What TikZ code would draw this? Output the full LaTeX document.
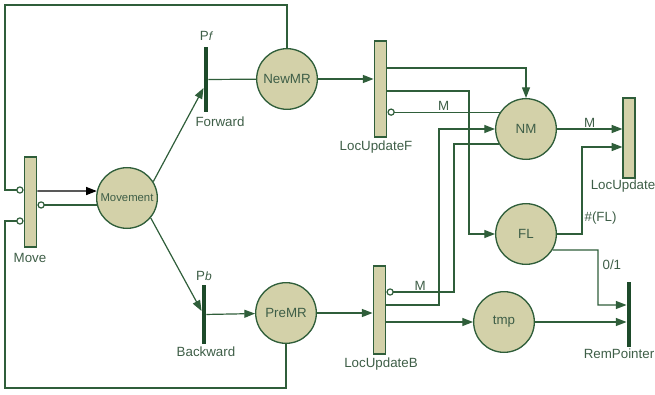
\documentclass[tikz,border=0pt]{standalone}
\usepackage{fontspec}
\setmainfont{Liberation Sans}
\usetikzlibrary{arrows.meta}

\definecolor{pgreen}{HTML}{2F5E3A}
\definecolor{bargreen}{HTML}{1D4A2A}
\definecolor{ptan}{HTML}{D3D1A9}
\definecolor{ptext}{HTML}{3E5E47}

\tikzset{
  place/.style={circle,draw=pgreen,fill=ptan,line width=1pt,minimum size=45.5pt,inner sep=0pt,text=ptext,font=\fontsize{10}{12}\selectfont},
  trans/.style={rectangle,draw=pgreen,fill=ptan,line width=0.9pt,minimum width=9.5pt,inner sep=0pt},
  thinbar/.style={rectangle,fill=bargreen,minimum width=3.3pt,inner sep=0pt},
  lbl/.style={text=ptext,font=\fontsize{10}{12}\selectfont,inner sep=1pt},
  flow/.style={draw=pgreen,line width=0.9pt,-{Triangle[length=8pt,width=6pt]}},
  flowblack/.style={draw=black,line width=0.9pt,-{Triangle[length=8pt,width=6pt]}},
  inh/.style={draw=pgreen,line width=0.9pt,-{Circle[open,length=5.5pt]}},
  plainarc/.style={draw=pgreen,line width=0.9pt}
}

\begin{document}
\begin{tikzpicture}[x=0.75pt,y=-0.75pt]
\useasboundingbox (0,0) rectangle (655,395);

% transitions and places
\node[trans,minimum height=67.5pt] (Move) at (30.5,202) {};
\node[place,font=\fontsize{8.5}{10}\selectfont] (Movement) at (127,198) {Movement};
\node[thinbar,minimum height=48.75pt] (Pf) at (206,79.5) {};
\node[thinbar,minimum height=44pt] (Pb) at (204,314.5) {};
\node[place] (NewMR) at (287,79) {NewMR};
\node[place] (PreMR) at (286,313) {PreMR};
\node[trans,minimum height=72pt] (LocUpdateF) at (380.5,89) {};
\node[trans,minimum height=66pt] (LocUpdateB) at (379.5,310) {};
\node[place] (NM) at (526,129) {NM};
\node[place] (FL) at (526,234) {FL};
\node[place] (tmp) at (504,322) {tmp};
\node[trans,minimum width=9pt,minimum height=60pt] (LocUpdate) at (629,138) {};
\node[thinbar,minimum height=48.75pt] (RemPointer) at (629,314) {};

% labels
\node[lbl] (lMove) at (30,258) {Move};
\node[lbl] (lPf) at (206,36) {P{\small\itshape f}};
\node[lbl] (lForward) at (220,122) {Forward};
\node[lbl] (lPb) at (204,276) {P{\small\itshape b}};
\node[lbl] (lBackward) at (206,352) {Backward};
\node[lbl] (lLocUpdateF) at (376,147) {LocUpdateF};
\node[lbl] (lLocUpdateB) at (381,364) {LocUpdateB};
\node[lbl] (lLocUpdate) at (623,186) {LocUpdate};
\node[lbl] (lRemPointer) at (619,354) {RemPointer};
\node[lbl,anchor=west] (lFL) at (583,218) {\#(FL)};
\node[lbl,anchor=west] (lZero) at (601,265) {0/1};

% loops back to Move
\draw[inh] (NewMR.north) |- (5,5) |- (Move.west |- 0,190);
\draw[inh] (PreMR.south) |- (5,388) |- (Move.west |- 0,221);

\draw[flowblack] (Move.east |- 0,191) -- (Movement.167);
\draw[inh] (Movement.193) -- (Move.east |- Movement.193);
\draw[flow] (Movement.32) -- (Pf.west |- 0,88);
\draw[flow] (Movement.-40) -- (Pb.west |- 0,311);

\draw[plainarc] (Pf) -- (NewMR);
\draw[flow] (Pb) -- (PreMR);
\draw[flow] (NewMR) -- (LocUpdateF.west |- NewMR);
\draw[flow] (PreMR) -- (LocUpdateB.west |- PreMR);

\draw[flow] (LocUpdateF.east |- 0,68) -| (NM.north);
\draw[flow] (LocUpdateF.east |- 0,91) -- (469,91) |- (FL.west);
\draw[inh] (NM.147) -- (LocUpdateF.east |- NM.147) node[lbl,midway,above] (mF) {M};

\draw[flow] (LocUpdateB.east |- 0,305) -- (439,305) |- (NM.west);
\draw[inh] (NM.209) -| (454,292) -- (LocUpdateB.east |- 0,292) node[lbl,midway,above] (mB) {M};
\draw[flow] (LocUpdateB.east |- tmp) -- (tmp);

\draw[flow] (NM) -- (LocUpdate.west |- NM) node[lbl,midway,above] (mU) {M};
\draw[flow] (FL) -- (582,234) |- (LocUpdate.west |- 0,147);
\draw[flow] (FL.-31) -- (598,250) |- (RemPointer.west |- 0,305);
\draw[flow] (tmp) -- (RemPointer.west |- tmp);
\end{tikzpicture}
\end{document}
